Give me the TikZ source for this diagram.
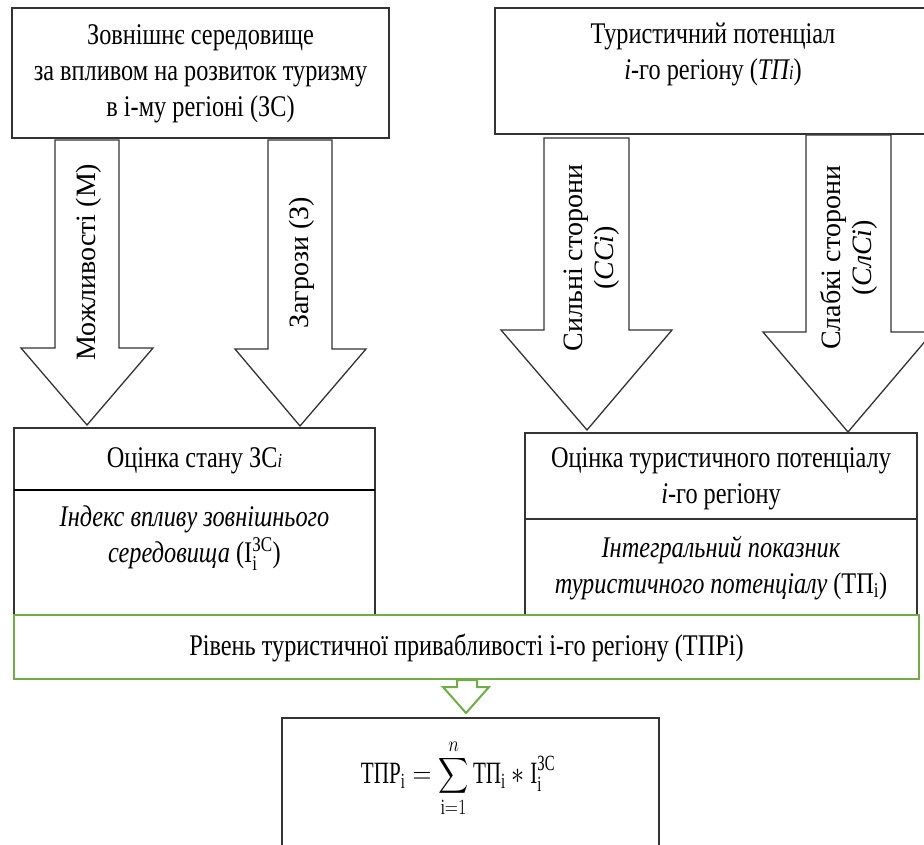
\RequirePackage{fix-cm}
\documentclass[tikz,border=0pt]{standalone}
\usepackage{amsmath}
\usepackage{graphicx}
\usepackage{fontspec}
\setmainfont[FakeStretch=0.81]{Liberation Serif}
\newfontfamily\rotfont{Liberation Serif}
\definecolor{ggreen}{HTML}{70AD47}
\definecolor{lineg}{HTML}{333333}
\tikzset{
  blk/.style={draw=lineg, line width=1.3pt, fill=white},
  bigarrow/.style={draw=lineg, line width=1.3pt, fill=white, line join=miter},
  txt/.style={align=center, inner sep=0pt, font=\fontsize{30}{36}\selectfont},
  rtxt/.style={align=center, inner sep=0pt, rotate=90, font=\rotfont\fontsize{28}{31}\selectfont},
  gbox/.style={draw=ggreen, line width=2.6pt, fill=white},
}
\newcommand{\smi}{{\fontsize{20}{20}\selectfont i}}
\begin{document}
\begin{tikzpicture}[x=1pt,y=-1pt]
\useasboundingbox (0,0) rectangle (924,845);
\clip (0,0) rectangle (924,845);

% top boxes
\node[blk, minimum width=377pt, minimum height=130pt, inner sep=0pt] (zs) at (200.5,73) {};
\node[txt] (zst) at (200.5,74) {Зовнішнє середовище\\за впливом на розвиток туризму\\в і-му регіоні (ЗС)};
\node[blk, minimum width=436pt, minimum height=126pt, inner sep=0pt] (tp) at (713,71) {};
\node[txt] (tpt) at (713,54) {Туристичний потенціал\\\textit{i}-го регіону (\textit{ТП\smi})};

% bottom boxes (left)
\path[blk] (14,428) rectangle (375,640);
\draw[black, line width=2.6pt] (14,490) -- (375,490);
\node[txt] (oz) at (194.5,461) {Оцінка стану ЗС\textit{\smi}};
\node[txt] (iz) at (194.5,538) {\textit{Індекс впливу зовнішнього}\\\textit{середовища} ($\textup{I}_{\textup{i}}^{\textup{ЗС}}$)};

% bottom boxes (right)
\path[blk] (525,433) rectangle (917,640);
\draw[lineg, line width=1.3pt] (525,519) -- (917,519);
\node[txt] (ot) at (721,479) {Оцінка туристичного потенціалу\\\textit{i}-го регіону};
\node[txt] (it) at (721,568) {\textit{Інтегральний показник}\\\textit{туристичного потенціалу} (ТП$_{\textup{i}}$)};

% block arrows
\draw[bigarrow] (55,140) -- (119,140) -- (119,348) -- (153,348) -- (87,425) -- (21,348) -- (55,348) -- cycle;
\draw[bigarrow] (268,140) -- (332,140) -- (332,349) -- (366,349) -- (300,426) -- (235,349) -- (268,349) -- cycle;
\draw[bigarrow] (544,138) -- (629,138) -- (629,330) -- (672,330) -- (587,430) -- (501,330) -- (544,330) -- cycle;
\draw[bigarrow] (806,135) -- (891,135) -- (891,332) -- (933,332) -- (848,432) -- (763,332) -- (806,332) -- cycle;

\node[rtxt] (am) at (89,262) {Можливості (М)};
\node[rtxt] (az) at (302,263) {Загрози (З)};
\node[rtxt] (as) at (592,258) {Сильні сторони\\(\textit{ССі})};
\node[rtxt] (asl) at (849,258) {Слабкі сторони\\(\textit{СлСі})};

% green box
\node[gbox, minimum width=905pt, minimum height=64pt, inner sep=0pt] (tpr) at (466.5,647) {};
\node[txt] (tprt) at (466.5,648) {Рівень туристичної привабливості і-го регіону (ТПРі)};

% green arrow
\draw[draw=ggreen, line width=2pt, fill=white, line join=miter] (457,680) -- (477,680) -- (477,687) -- (489,687) -- (466,713) -- (443,687) -- (457,687) -- cycle;

% formula box
\path[blk] (282,718) rectangle (659,880);
\node[inner sep=0pt, font=\fontsize{31}{36}\selectfont] (f) at (458,778)
  {\scalebox{0.84}[1]{$\displaystyle \text{ТПР}_{\textup{i}} = \sum_{\textup{i}=1}^{n} \text{ТП}_{\textup{i}} * \textup{I}_{\textup{i}}^{\textup{ЗС}}$}};
\end{tikzpicture}
\end{document}
